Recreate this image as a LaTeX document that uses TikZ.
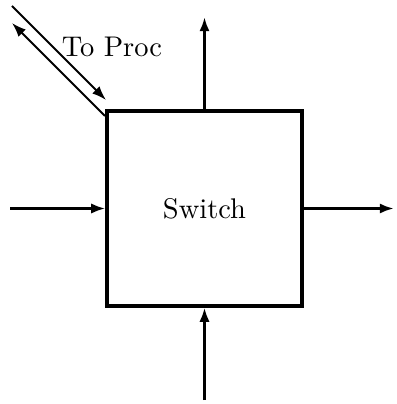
\documentclass[tikz,border=0pt]{standalone}
\usetikzlibrary{arrows.meta}
\begin{document}
\begin{tikzpicture}[x=0.3514pt,y=-0.3514pt,
  box/.style={draw,line width=1.1pt,minimum width=68.5pt,minimum height=68.5pt,inner sep=0pt},
  conn/.style={line width=1.1pt,-{Latex[length=5pt,width=3.6pt]}},
  thin conn/.style={line width=0.7pt,-{Latex[length=5pt,width=3.6pt]}}]
\useasboundingbox (0,0) rectangle (396,404);
\node[box] (sw) at (204.5,208.5) {Switch};
\coordinate (topend) at (204.5,17);
\coordinate (botstart) at (204.5,400);
\coordinate (leftstart) at (10,208.5);
\coordinate (rightend) at (394,208.5);
\coordinate (d1s) at (12,6);
\coordinate (d1e) at (106,100);
\coordinate (d2s) at (105,116);
\coordinate (d2e) at (12,23);
\draw[conn] (sw.north) -- (topend);
\draw[conn] (botstart) -- (sw.south);
\draw[conn] (leftstart) -- (sw.west);
\draw[conn] (sw.east) -- (rightend);
\draw[thin conn] (d1s) -- (d1e);
\draw[thin conn] (d2s) -- (d2e);
\node (lbl) at (112,47) {To Proc};
\end{tikzpicture}
\end{document}
